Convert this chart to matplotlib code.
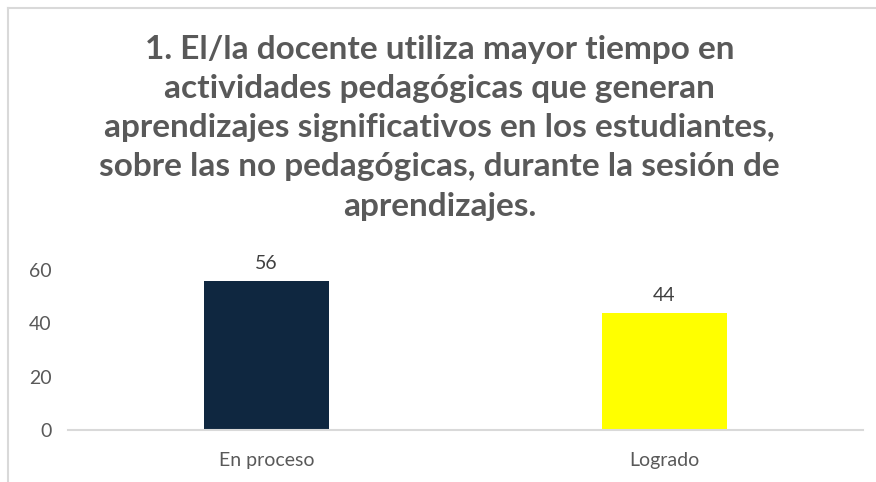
import matplotlib
matplotlib.use("Agg")
import matplotlib.pyplot as plt
from matplotlib.lines import Line2D

categorias = ["En proceso", "Logrado"]
valores = [56, 44]
colores = ["#0F2740", "#FFFF00"]
titulo = ("1. El/la docente utiliza mayor tiempo en\n"
          "actividades pedagógicas que generan\n"
          "aprendizajes significativos en los estudiantes,\n"
          "sobre las no pedagógicas, durante la sesión de\n"
          "aprendizajes.")
yticks = [0, 20, 40, 60]

plt.rcParams['font.family'] = ['Lato', 'DejaVu Sans']
gris = "#595959"

fig = plt.figure(figsize=(8.76, 4.82), dpi=100)
ax = fig.add_axes([0.0776, 0.108, 0.9074, 0.332])

x = range(len(categorias))
barras = ax.bar(x, valores, width=0.314, color=colores)
for b, v in zip(barras, valores):
    ax.annotate(str(v), (b.get_x() + b.get_width() / 2, v), xytext=(0, 6),
                textcoords="offset points", ha="center", va="bottom",
                fontsize=14, color="#404040")

ax.set_xlim(-0.5, 1.5)
ax.set_ylim(0, 60)
ax.set_yticks(yticks)
ax.set_xticks(list(x))
ax.set_xticklabels(categorias)
ax.tick_params(axis="both", length=0, labelsize=14, labelcolor=gris)
ax.tick_params(axis="y", pad=12)
ax.tick_params(axis="x", pad=16)
for s in ["top", "right", "left"]:
    ax.spines[s].set_visible(False)
ax.spines["bottom"].set_color("#D9D9D9")
ax.spines["bottom"].set_linewidth(1.5)
ax.patch.set_alpha(0)

fig.text(0.502, 0.927, titulo, ha="center", va="top", fontsize=24,
         fontweight="bold", color=gris, linespacing=1.42)

# marco de la imagen (solo arriba e izquierda visibles)
fig.add_artist(Line2D([8 / 876, 8 / 876], [0, 1 - 8 / 482], color="#D9D9D9", lw=1.5))
fig.add_artist(Line2D([8 / 876, 1], [1 - 8 / 482, 1 - 8 / 482], color="#D9D9D9", lw=1.5))

fig.savefig("out.png", dpi=100)
